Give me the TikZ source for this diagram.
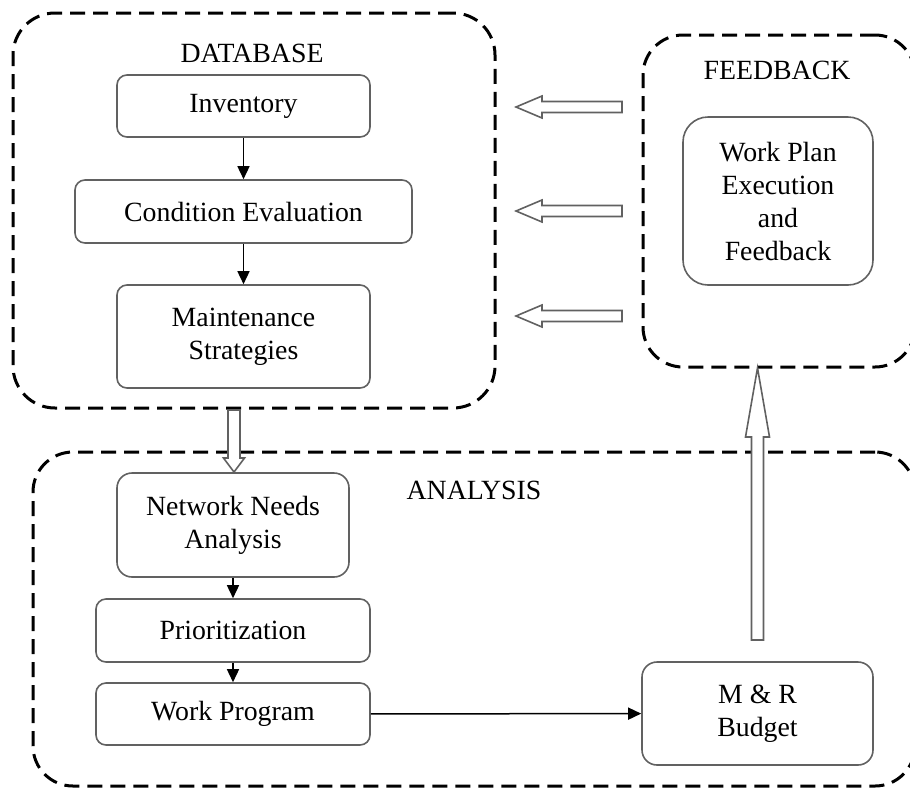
\documentclass[tikz,border=0pt]{standalone}
\usepackage{fontspec}
\setmainfont{Liberation Serif}
\usetikzlibrary{arrows.meta}
\begin{document}
\begin{tikzpicture}[x=1pt,y=1pt,
  group/.style={draw=black, line width=3pt, dash pattern=on 15pt off 8pt, rounded corners=42pt, inner sep=0pt},
  box/.style={draw=black!62, line width=1.6pt, rounded corners=10pt, align=center,
    font=\fontsize{27.8}{33}\selectfont, inner sep=0pt},
  grouptitle/.style={font=\fontsize{27.8}{33}\selectfont, inner sep=0pt},
  flow/.style={draw=black, line width=1.5pt, -{Triangle[length=13pt,width=12pt]}},
  hollow/.style={draw=black!62, line width=1.6pt, fill=white, line join=miter},
  pics/hollowarrow/.style n args={4}{code={
    \draw[hollow] (0,-#4) -- ({#1-#2},-#4) -- ({#1-#2},-#3) -- (#1,0)
      -- ({#1-#2},#3) -- ({#1-#2},#4) -- (0,#4) -- cycle;}}
]
\useasboundingbox (0,0) rectangle (910,-788);

% group frames
\node[group, minimum width=482, minimum height=395] (db) at (254,-210.5) {};
\node[group, minimum width=272, minimum height=332, rounded corners=40pt] (fb) at (779,-201) {};
\node[group, minimum width=882, minimum height=334, rounded corners=40pt] (an) at (474,-619) {};

\node[grouptitle] (dbt) at (252,-53) {DATABASE};
\node[grouptitle] (fbt) at (777,-70) {FEEDBACK};
\node[grouptitle] (ant) at (474,-490) {ANALYSIS};

% database boxes
\node[box, minimum width=253, minimum height=62] (inv) at (243.5,-106) {Inventory};
\node[box, minimum width=337, minimum height=63] (cond) at (243.5,-211.5) {Condition Evaluation};
\node[box, minimum width=253, minimum height=103] (mst) at (243.5,-336.5) {Maintenance\\Strategies};

% feedback box
\node[box, minimum width=190, minimum height=168, rounded corners=25pt] (wpe) at (778,-201) {Work Plan\\Execution\\and\\Feedback};

% analysis boxes
\node[box, minimum width=232, minimum height=104, rounded corners=15pt] (net) at (233,-525) {Network Needs\\Analysis};
\node[box, minimum width=274, minimum height=63] (prio) at (233,-630.5) {Prioritization};
\node[box, minimum width=274, minimum height=62] (wprog) at (233,-714) {Work Program};
\node[box, minimum width=231, minimum height=103, rounded corners=15pt] (mr) at (757.5,-713.5) {M \& R\\Budget};

% flow connectors
\draw[flow] (inv) -- (cond);
\draw[flow] (cond) -- (mst);
\draw[flow] (net) -- (prio);
\draw[flow] (prio) -- (wprog);
\draw[flow] (wprog) -- (mr);

% hollow arrows
\coordinate (fa1) at (622,-107);
\coordinate (fa2) at (622,-211);
\coordinate (fa3) at (622,-316);
\pic[rotate=180] at (fa1) {hollowarrow={106}{26}{11}{5.5}};
\pic[rotate=180] at (fa2) {hollowarrow={106}{26}{11}{5.5}};
\pic[rotate=180] at (fa3) {hollowarrow={106}{26}{11}{5.5}};

\coordinate (dbout) at (234,-410);
\pic[rotate=-90] at (dbout) {hollowarrow={62}{14}{10.5}{6}};

\coordinate (mrout) at (757.5,-640);
\pic[rotate=90] at (mrout) {hollowarrow={272}{69}{12}{6}};
\end{tikzpicture}
\end{document}
